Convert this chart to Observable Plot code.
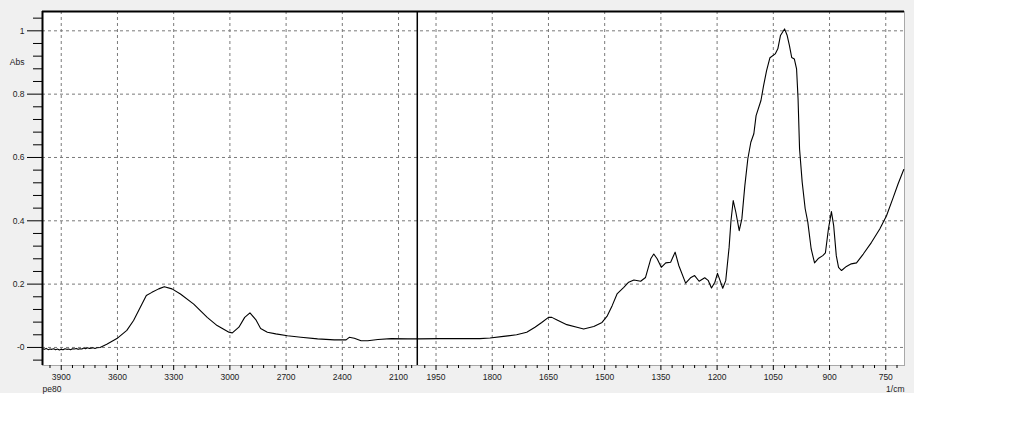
<!DOCTYPE html>
<html>
<head>
<meta charset="utf-8">
<script src="https://cdn.jsdelivr.net/npm/d3@7"></script>
<script src="https://cdn.jsdelivr.net/npm/@observablehq/plot@0.6"></script>
<style>
  html, body { margin: 0; padding: 0; background: white; }
  #wrap { position: relative; width: 1011px; height: 430px; }
  #bg { position: absolute; left: 0; top: 0; width: 914px; height: 393px; background: #f0f0f0; }
  #chart { position: absolute; left: 0; top: 0; }
</style>
</head>
<body>
<div id="wrap"><div id="bg"></div><div id="chart"></div></div>
<script>
// Wavenumbers (1/cm) and absorbance
const wavenumber = [
  4000,3990,3980,3970,3960,3950,3940,3930,3920,3910,3900,3890,3880,3870,3860,3850,3840,3830,3820,3810,
  3800,3790,3780,3770,3760,3750,3740,3730,3720,3710,3693,3657,3603,3550,3514,3478,3446,3416,3380,3350,
  3309,3264,3193,3121,3068,3005,2987,2952,2921,2893,2862,2836,2800,2755,2693,2621,2532,2443,2380,2363,
  2336,2300,2264,2210,2139,2050,1996,1940,1880,1833,1806,1770,1735,1708,1686,1668,1650,1641,1627,1601,
  1574,1556,1529,1507,1493,1480,1467,1449,1436,1422,1404,1391,1377,1369,1360,1349,1337,1324,1312,1302,
  1284,1271,1260,1248,1233,1224,1215,1206,1199,1192,1185,1177,1168,1163,1157,1150,1141,1134,1126,1118,
  1110,1102,1096,1083,1076,1068,1059,1045,1038,1031,1020,1013,1007,1001,994,988,984,980,973,965,
  958,949,940,929,918,911,903,895,889,882,876,868,855,842,828,810,788,766,748,730,
  717,702
];
const absorbance = [
  -0.004,-0.006,-0.003,-0.007,-0.005,-0.006,-0.004,-0.007,-0.005,-0.008,-0.006,-0.007,-0.004,-0.006,-0.005,-0.007,-0.004,-0.005,-0.003,-0.006,
  -0.004,-0.005,-0.002,-0.004,-0.001,-0.003,-0.002,-0.001,-0.003,-0.001,0.000,0.010,0.028,0.054,0.085,0.127,0.164,0.174,0.185,0.192,
  0.185,0.169,0.137,0.095,0.069,0.048,0.046,0.064,0.095,0.109,0.088,0.060,0.048,0.043,0.037,0.032,0.027,0.024,0.024,0.032,
  0.029,0.021,0.021,0.025,0.028,0.027,0.027,0.028,0.028,0.028,0.030,0.035,0.040,0.048,0.064,0.079,0.095,0.095,0.087,0.072,
  0.064,0.058,0.066,0.079,0.100,0.132,0.169,0.190,0.206,0.213,0.209,0.221,0.280,0.295,0.280,0.253,0.267,0.269,0.301,0.258,
  0.203,0.220,0.227,0.209,0.220,0.212,0.188,0.206,0.234,0.211,0.187,0.211,0.316,0.400,0.464,0.427,0.369,0.406,0.511,0.596,
  0.648,0.675,0.732,0.780,0.827,0.874,0.915,0.927,0.943,0.985,1.006,0.985,0.953,0.916,0.911,0.880,0.785,0.627,0.522,0.438,
  0.396,0.311,0.267,0.282,0.290,0.299,0.374,0.429,0.385,0.290,0.253,0.243,0.256,0.264,0.267,0.295,0.332,0.374,0.416,0.474,
  0.517,0.562
];

const xMajorTicks = [3900,3600,3300,3000,2700,2400,2100,1950,1800,1650,1500,1350,1200,1050,900,750];
const xMinorTicks = [
  3960,3840,3780,3720,3660,3540,3480,3420,3360,3240,3180,3120,3060,2940,2880,2820,2760,
  2640,2580,2520,2460,2340,2280,2220,2160,2060,2030,
  1980,1920,1890,1860,1830,1770,1740,1710,1680,1620,1590,1560,1530,1470,1440,1410,1380,
  1320,1290,1260,1230,1170,1140,1110,1080,1020,990,960,930,870,840,810,780,720
];
const yMajorTicks = [0, 0.2, 0.4, 0.6, 0.8, 1];
const yMinorTicks = [-0.04,0.04,0.08,0.12,0.16,0.24,0.28,0.32,0.36,0.44,0.48,0.52,0.56,0.64,0.68,0.72,0.76,0.84,0.88,0.92,0.96,1.04];
const xDomain = [4000, 700];
const breakAt = 2000;          // scale changes (x2 compression above 2000 1/cm)
const yDomain = [-0.057, 1.061];
const yLabel = "Abs";
const xUnitLabel = "1/cm";
const sampleName = "pe80";

// map wavenumber to the instrument's split axis coordinate (half scale above the break)
const warp = w => w >= breakAt ? breakAt + (w - breakAt) / 2 : w;
const unwarp = u => u >= breakAt ? breakAt + (u - breakAt) * 2 : u;

const spectrum = wavenumber.map((w, i) => ({wn: w, a: absorbance[i]}));
const fmtY = d => d === 0 ? "-0" : String(+d.toFixed(1));
const fmtX = u => String(Math.round(unwarp(u)));
const gridStyle = {stroke: "#7a7a7a", strokeOpacity: 1, strokeDasharray: "3,3", strokeWidth: 1};

const chart = Plot.plot({
  width: 1011,
  height: 430,
  marginLeft: 42,
  marginRight: 107,
  marginTop: 11,
  marginBottom: 65,
  style: {background: "transparent", fontFamily: "'Liberation Sans', Arial, sans-serif", fontSize: "8.5px", color: "#222"},
  x: {domain: xDomain.map(warp), label: null},
  y: {domain: yDomain, label: null},
  marks: [
    Plot.frame({fill: "white", stroke: "#a8a8a8"}),
    Plot.ruleX(xMajorTicks.map(warp), gridStyle),
    Plot.ruleY(yMajorTicks, gridStyle),
    Plot.axisX(xMinorTicks.map(warp), {anchor: "bottom", tickSize: 3, tickFormat: () => "", stroke: "black", label: null}),
    Plot.axisX(xMajorTicks.map(warp), {anchor: "bottom", tickSize: 5, tickPadding: 3, tickFormat: fmtX, stroke: "black", fill: "#222", label: null}),
    Plot.axisY(yMinorTicks, {anchor: "left", tickSize: 9, tickFormat: () => "", stroke: "black", label: null}),
    Plot.axisY(yMajorTicks, {anchor: "left", tickSize: 15, tickPadding: 3, tickFormat: fmtY, stroke: "black", fill: "#222", label: null}),
    Plot.ruleX([warp(xDomain[0])], {stroke: "black", strokeWidth: 2}),
    Plot.ruleY([yDomain[1]], {stroke: "black", strokeWidth: 2}),
    Plot.ruleX([warp(breakAt)], {stroke: "black", strokeWidth: 1.5}),
    Plot.line(spectrum, {x: d => warp(d.wn), y: "a", stroke: "black", strokeWidth: 1.1}),
    Plot.text([yLabel], {y: () => 0.9, frameAnchor: "left", dx: -18, textAnchor: "end", text: d => d, fill: "#222"}),
    Plot.text([sampleName], {frameAnchor: "bottom-left", dy: 26, textAnchor: "start", text: d => d, fill: "#222"}),
    Plot.text([xUnitLabel], {frameAnchor: "bottom-right", dy: 26, textAnchor: "end", text: d => d, fill: "#222"})
  ]
});
document.getElementById("chart").appendChild(chart);
</script>
</body>
</html>
